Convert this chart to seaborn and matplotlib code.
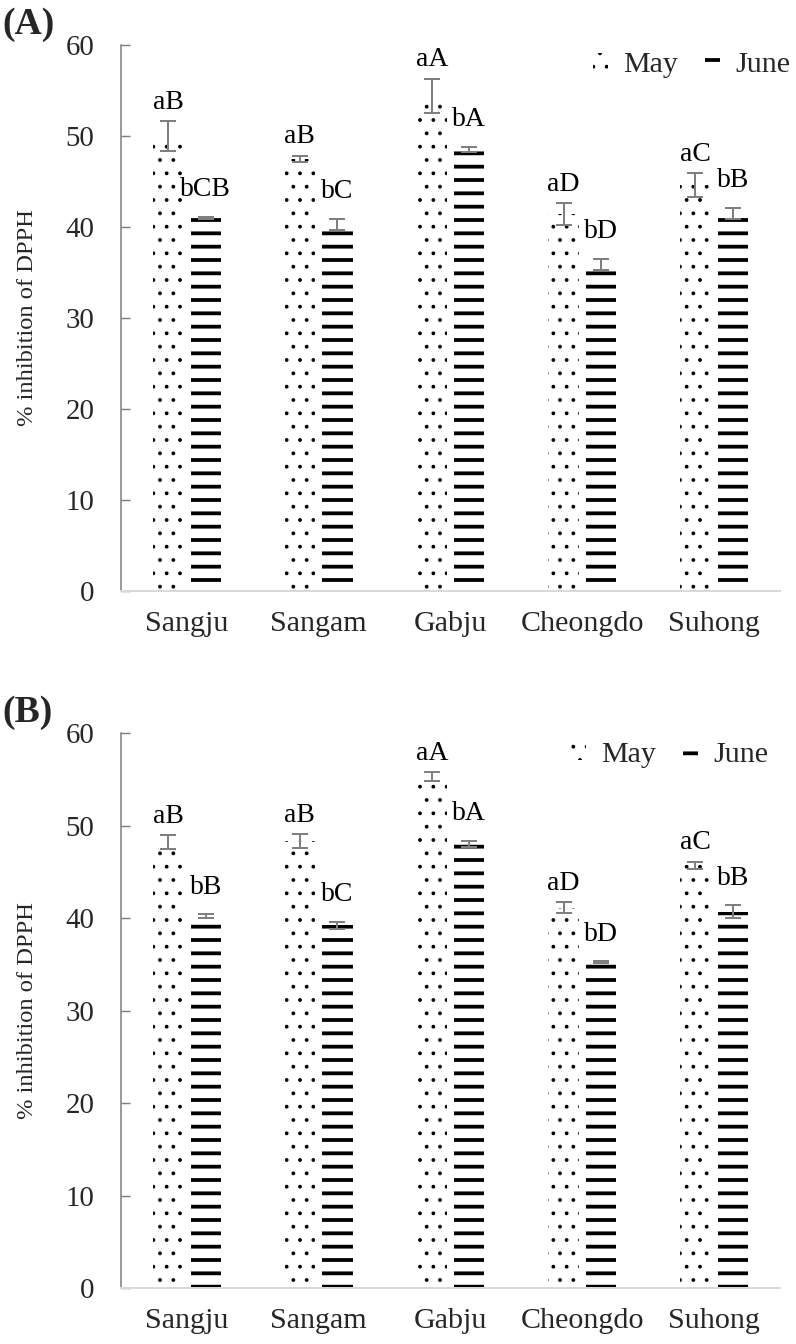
import numpy as np
import pandas as pd
import seaborn as sns
import matplotlib.pyplot as plt
from matplotlib.patches import Patch

## data
sites = ['Sangju', 'Sangam', 'Gabju', 'Cheongdo', 'Suhong']
months = ['May', 'June']

## panel (A)
a_may = [50.0, 47.5, 54.4, 41.4, 44.6]
a_may_err = [1.6, 0.35, 1.9, 1.2, 1.3]
a_june = [41.0, 40.3, 48.5, 35.9, 41.5]
a_june_err = [0.15, 0.6, 0.3, 0.6, 0.6]
a_may_lab = ['aB', 'aB', 'aA', 'aD', 'aC']
a_june_lab = ['bCB', 'bC', 'bA', 'bD', 'bB']

## panel (B)
b_may = [48.2, 48.3, 55.3, 41.1, 45.7]
b_may_err = [0.75, 0.75, 0.45, 0.6, 0.35]
b_june = [40.2, 39.2, 48.0, 35.2, 40.7]
b_june_err = [0.2, 0.4, 0.35, 0.1, 0.7]
b_may_lab = ['aB', 'aB', 'aA', 'aD', 'aC']
b_june_lab = ['bB', 'bC', 'bA', 'bD', 'bB']

sns.set_theme(style='white')
plt.rcParams['font.family'] = ['Liberation Serif', 'DejaVu Serif']
plt.rcParams['hatch.linewidth'] = 1.0

DPI = 80
W, H = 796, 1344
fig = plt.figure(figsize=(W / DPI, H / DPI), dpi=DPI)

## axes boxes in pixels: left, top(60), right, bottom(0)
ax_a = fig.add_axes([121 / W, 1 - 591 / H, 659 / W, 546 / H])
ax_b = fig.add_axes([121 / W, 1 - 1288 / H, 659 / W, 555 / H])

hatches = {'May': '.', 'June': '-'}
hatch_lw = {'May': 1.0, 'June': 3.4}
label_off = {'May': 6, 'June': 13}


def draw_panel(ax, may, may_err, june, june_err, may_lab, june_lab, tag,
               tag_y, leg_x, leg_y):
    df = pd.DataFrame({
        'site': sites * 2,
        'month': ['May'] * len(sites) + ['June'] * len(sites),
        'value': may + june,
        'err': may_err + june_err,
        'lab': may_lab + june_lab,
    })
    sns.barplot(data=df, x='site', y='value', hue='month', hue_order=months,
                order=sites, errorbar=None, width=0.57, gap=0.2,
                legend=False, ax=ax)

    for month, cont in zip(months, ax.containers):
        sub = df[df['month'] == month]
        for bar, (_, row) in zip(cont, sub.iterrows()):
            bar.set_facecolor('white')
            bar.set_edgecolor('black')
            bar.set_linewidth(0)
            bar.set_hatch(hatches[month])
            if hasattr(bar, 'set_hatch_linewidth'):
                bar.set_hatch_linewidth(hatch_lw[month])
            xc = bar.get_x() + bar.get_width() / 2
            ax.errorbar(xc, row['value'], yerr=row['err'], fmt='none',
                        ecolor='#7f7f7f', elinewidth=1.8, capsize=7,
                        capthick=1.8, zorder=5)
            ax.annotate(row['lab'], (xc, row['value'] + row['err']),
                        xytext=(0, label_off[month]),
                        textcoords='offset points', ha='center',
                        va='bottom', fontsize=25, color='black')

    ax.set_ylim(0, 60)
    ax.set_yticks(range(0, 61, 10))
    ax.set_xlim(-0.5, len(sites) - 0.5)
    ax.set_xlabel('')
    ax.set_ylabel('% inhibition of DPPH', fontsize=22, labelpad=25)
    ax.tick_params(axis='y', left=True, direction='in', length=8, width=1.3,
                   color='#7f7f7f', labelsize=26, pad=24)
    ax.tick_params(axis='x', bottom=False, labelsize=27, pad=12)
    sns.despine(ax=ax)
    ax.spines['left'].set_color('#7f7f7f')
    ax.spines['left'].set_linewidth(1.4)
    ax.spines['bottom'].set_color('#d9d9d9')
    ax.spines['bottom'].set_linewidth(1.8)

    handles = []
    for month in months:
        p = Patch(facecolor='white', edgecolor='black', linewidth=0,
                  hatch=hatches[month], label=month)
        handles.append(p)
    leg = ax.legend(handles=handles, loc='center right',
                    bbox_to_anchor=(leg_x / W, 1 - leg_y / H),
                    bbox_transform=fig.transFigure, ncol=2, frameon=False,
                    fontsize=27, handlelength=0.5, handleheight=0.5,
                    handletextpad=0.5, columnspacing=0.9, borderpad=0,
                    borderaxespad=0)
    for h in leg.legend_handles:
        if hasattr(h, 'set_hatch_linewidth'):
            h.set_hatch_linewidth(hatch_lw[h.get_label()])

    fig.text(2 / W, 1 - tag_y / H, tag, fontsize=34, fontweight='bold',
             ha='left', va='center')


draw_panel(ax_a, a_may, a_may_err, a_june, a_june_err, a_may_lab, a_june_lab,
           '(A)', 25, 790, 65)
draw_panel(ax_b, b_may, b_may_err, b_june, b_june_err, b_may_lab, b_june_lab,
           '(B)', 712, 768, 755)

fig.savefig('out.png', dpi=DPI)
